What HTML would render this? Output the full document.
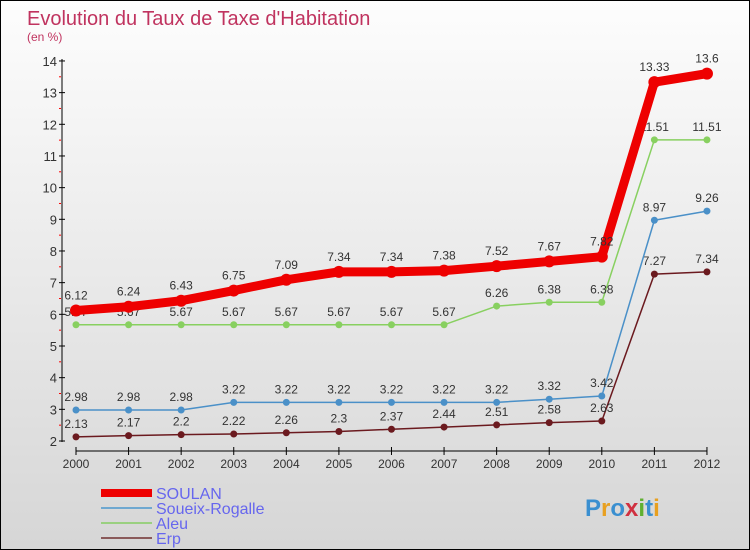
<!DOCTYPE html>
<html><head><meta charset="utf-8"><style>
body{margin:0}
#wrap{width:748px;height:548px;border:1px solid #000;background:linear-gradient(#fdfdfd,#d6d6d6);position:relative;font-family:"Liberation Sans",sans-serif;overflow:hidden}
svg{position:absolute;left:0;top:0}
</style></head><body>
<div id="wrap">
<svg id="c" width="750" height="550">
<text x="26" y="24" font-size="20" fill="#c0335f">Evolution du Taux de Taxe d'Habitation</text>
<text x="26" y="40" font-size="12" fill="#c0335f">(en %)</text>
</svg>
</div>
<script>
const years=["2000","2001","2002","2003","2004","2005","2006","2007","2008","2009","2010","2011","2012"];
const soulan=[6.12,6.24,6.43,6.75,7.09,7.34,7.34,7.38,7.52,7.67,7.82,13.33,13.6];
const soueix=[2.98,2.98,2.98,3.22,3.22,3.22,3.22,3.22,3.22,3.32,3.42,8.97,9.26];
const aleu=[5.67,5.67,5.67,5.67,5.67,5.67,5.67,5.67,6.26,6.38,6.38,11.51,11.51];
const erp=[2.13,2.17,2.2,2.22,2.26,2.3,2.37,2.44,2.51,2.58,2.63,7.27,7.34];
const yTicks=[2,3,4,5,6,7,8,9,10,11,12,13,14];
const NS="http://www.w3.org/2000/svg";
const svg=document.getElementById('c');
const X=i=>75+i*52.58;
const Y=v=>440-(v-2)*31.67;
function mk(t,a,name){const e=document.createElementNS(NS,t);for(const k in a)e.setAttribute(k,a[k]);


svg.appendChild(e);return e;}
mk('line',{x1:61,y1:58,x2:61,y2:441,stroke:'#000'},'y-axis');
mk('line',{x1:75,y1:450,x2:706,y2:450,stroke:'#000'},'x-axis');
yTicks.forEach(v=>{mk('line',{x1:58,y1:Y(v),x2:64,y2:Y(v),stroke:'#000'},'y-tick');
const t=mk('text',{x:56,y:Y(v)+5,'text-anchor':'end','font-size':13,fill:'#333'},'y-tick-label');t.textContent=v;
if(v<14)mk('line',{x1:58,y1:Y(v+0.5),x2:60,y2:Y(v+0.5),stroke:'#f00'},'y-minor-tick');});
years.forEach((y,i)=>{mk('line',{x1:X(i),y1:446,x2:X(i),y2:454,stroke:'#000'},'x-tick');
const t=mk('text',{x:X(i),y:467,'text-anchor':'middle','font-size':12,fill:'#333'},'x-tick-label');t.textContent=y;});
function series(d,col,w,r,name,dy){
mk('polyline',{points:d.map((v,i)=>X(i)+','+Y(v)).join(' '),fill:'none',stroke:col,'stroke-width':w,'stroke-linejoin':'round'},name+'-line');
d.forEach((v,i)=>{mk('circle',{cx:X(i),cy:Y(v),r:r,fill:col},name+'-point');
const t=mk('text',{x:X(i),y:Y(v)+dy,'text-anchor':'middle','font-size':12,fill:'#333'},name+'-value-label');t.textContent=v;});}
series(erp,'#6b1a1f',1.5,3.5,'erp',-9);
series(soueix,'#4a90c8',1.5,3.5,'soueix-rogalle',-9);
series(aleu,'#88d060',1.5,3.5,'aleu',-9);
series(soulan,'#ee0000',9,6,'soulan',-11);
const leg=[['SOULAN','#ee0000',8],['Soueix-Rogalle','#6fa8d0',2],['Aleu','#9ad080',2],['Erp','#8a5a5a',2]];
leg.forEach((l,i)=>{const y=492+i*15;
mk('line',{x1:100,y1:y,x2:151,y2:y,stroke:l[1],'stroke-width':l[2]},'legend-swatch');
const t=mk('text',{x:155,y:y+6,'font-size':16,fill:'#6666ee'},'legend-entry');t.textContent=l[0];});
const p=mk('text',{x:584,y:515,'font-size':24,'font-weight':'bold',fill:'#3a8fd0'},'proxiti-logo');
const cols=['#3a8fd0','#e8a020','#3a8fd0','#d03040','#60b030','#3a8fd0','#e8a020'];
'Proxiti'.split('').forEach((ch,i)=>{const s=document.createElementNS(NS,'tspan');s.setAttribute('fill',cols[i]);s.textContent=ch;p.appendChild(s);});
</script>
</body></html>
